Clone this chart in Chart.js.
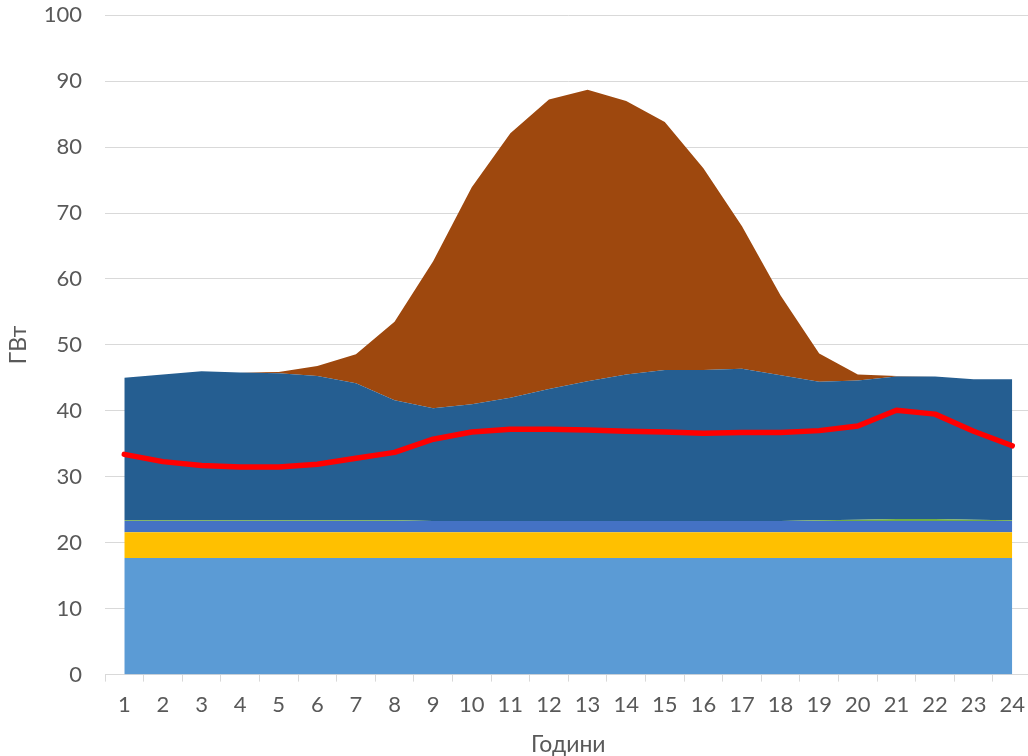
<!DOCTYPE html>
<html>
<head>
<meta charset="utf-8">
<script src="https://cdn.jsdelivr.net/npm/chart.js@4/dist/chart.umd.min.js"></script>
<style>
  body { margin: 0; background: #fff; overflow: hidden; }
  #outer { width: 1028px; height: 756px; position: relative; overflow: hidden; }
  /* canvas is a bit larger than the page so the plot area lands where the original has it */
  #wrap { position: absolute; left: 0; top: -21px; width: 1035px; height: 777px; }
</style>
</head>
<body>
<div id="outer"><div id="wrap"><canvas id="myChart"></canvas></div></div>
<script>
// hours on the x axis
const hours = ['1', '2', '3', '4', '5', '6', '7', '8', '9', '10', '11', '12',
  '13', '14', '15', '16', '17', '18', '19', '20', '21', '22', '23', '24'];

// stacked generation layers, GW (thickness of each layer)
const nuclear = [17.7, 17.7, 17.7, 17.7, 17.7, 17.7, 17.7, 17.7, 17.7, 17.7, 17.7, 17.7,
  17.7, 17.7, 17.7, 17.7, 17.7, 17.7, 17.7, 17.7, 17.7, 17.7, 17.7, 17.7];
const hydro = [3.9, 3.9, 3.9, 3.9, 3.9, 3.9, 3.9, 3.9, 3.9, 3.9, 3.9, 3.9,
  3.9, 3.9, 3.9, 3.9, 3.9, 3.9, 3.9, 3.9, 3.9, 3.9, 3.9, 3.9];
const biomass = [1.7, 1.7, 1.7, 1.7, 1.7, 1.7, 1.7, 1.7, 1.7, 1.7, 1.7, 1.7,
  1.7, 1.7, 1.7, 1.7, 1.7, 1.7, 1.7, 1.7, 1.7, 1.7, 1.7, 1.7];
const wind = [0.1, 0.1, 0.1, 0.1, 0.1, 0.1, 0.1, 0.1, 0, 0, 0, 0,
  0, 0, 0, 0, 0, 0, 0.1, 0.2, 0.3, 0.3, 0.2, 0.1];
const thermal = [21.6, 22.1, 22.6, 22.4, 22.3, 21.9, 20.8, 18.2, 17.1, 17.7, 18.7, 20.0,
  21.2, 22.2, 22.9, 22.9, 23.1, 22.1, 21.0, 21.1, 21.6, 21.6, 21.3, 21.4];
const solar = [0, 0, 0, 0, 0.2, 1.5, 4.4, 11.9, 22.3, 32.9, 40.1, 43.9,
  44.2, 41.5, 37.6, 30.6, 21.6, 12.1, 4.3, 0.9, 0.1, 0, 0, 0];

// consumption line, GW
const load = [33.4, 32.3, 31.7, 31.5, 31.5, 31.9, 32.8, 33.7, 35.7, 36.8, 37.2, 37.2,
  37.1, 36.9, 36.8, 36.6, 36.7, 36.7, 37.0, 37.7, 40.1, 39.5, 36.9, 34.7];

function area(label, data, color, fill) {
  return {
    type: 'line',
    label: label,
    data: data,
    stack: 'gen',
    backgroundColor: color,
    borderColor: color,
    borderWidth: 0,
    pointRadius: 0,
    fill: fill,
    tension: 0
  };
}

var ctx = document.getElementById('myChart');
const textColor = '#595959';
const gridColor = '#D9D9D9';

const config = {
  type: 'line',
  data: {
    labels: hours,
    datasets: [
      area('АЕЦ', nuclear, '#5B9BD5', 'origin'),
      area('ВЕЦ', hydro, '#FFC000', '-1'),
      area('Биомаса', biomass, '#4472C4', '-1'),
      area('Вятър', wind, '#70AD47', '-1'),
      area('ТЕЦ', thermal, '#255E91', '-1'),
      area('Слънце', solar, '#9E480E', '-1'),
      {
        type: 'line',
        label: 'Потребление',
        data: load,
        stack: 'load',
        order: -1,
        borderColor: '#FF0000',
        borderWidth: 5.5,
        borderCapStyle: 'round',
        borderJoinStyle: 'round',
        pointRadius: 0,
        fill: false,
        tension: 0
      }
    ]
  },
  options: {
    responsive: true,
    maintainAspectRatio: false,
    animation: false,
    layout: { padding: 0 },
    plugins: {
      legend: { display: false },
      tooltip: { enabled: false }
    },
    scales: {
      x: {
        offset: true,
        grid: {
          offset: true,
          drawOnChartArea: false,
          drawTicks: true,
          tickLength: 7,
          color: gridColor
        },
        border: { color: gridColor, width: 1 },
        ticks: {
          color: textColor,
          padding: 10,
          maxRotation: 0,
          autoSkip: false,
          font: { family: 'Lato', size: 22 }
        },
        title: {
          display: true,
          text: 'Години',
          color: textColor,
          padding: { top: 5, bottom: 0 },
          font: { family: 'Lato', size: 23, lineHeight: 1 }
        }
      },
      y: {
        stacked: true,
        min: 0,
        max: 100,
        afterFit: function (scale) { scale.width = 105; },
        grid: {
          drawTicks: false,
          color: gridColor,
          lineWidth: 1
        },
        border: { display: false },
        ticks: {
          stepSize: 10,
          color: textColor,
          padding: 23,
          font: { family: 'Lato', size: 22 }
        },
        title: {
          display: true,
          text: 'ГВт',
          color: textColor,
          padding: { top: 7, bottom: 0 },
          font: { family: 'Lato', size: 23, lineHeight: 1 }
        }
      }
    }
  }
};

var myChart = new Chart(ctx, config);
</script>
</body>
</html>
